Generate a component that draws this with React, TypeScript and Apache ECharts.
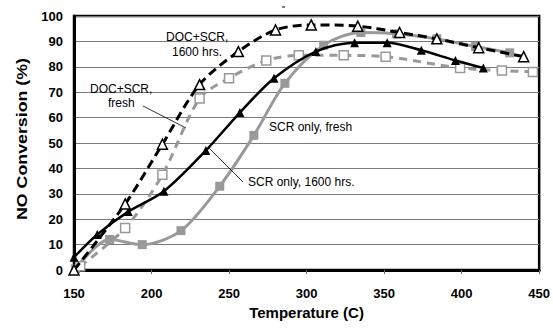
import React, { useEffect, useRef } from "react";
import * as echarts from "echarts";

// Temperature (C) / NO conversion (%) readings for each configuration
const docScr1600X = [150, 183, 207, 231, 256, 280, 303, 333, 360, 384, 411, 440];
const docScr1600Y = [0, 26, 49.5, 73, 86, 94.5, 96.5, 96, 93.5, 91, 87.5, 84];

const scrFreshX = [150, 165, 185, 208, 235, 257, 279, 306, 331, 352, 374, 396, 414];
const scrFreshY = [5, 14, 23, 31, 47, 62, 75.5, 86, 89.5, 89.5, 86.5, 82.5, 79.5];

const docScrFreshX = [154, 183, 207, 231, 250, 274, 295, 324, 351, 399, 426, 446];
const docScrFreshY = [1.5, 16.5, 37.5, 67.5, 75.5, 82.5, 84.5, 84.5, 84, 79.5, 78.5, 78];

const scr1600X = [151, 173, 194, 219, 244, 266, 286, 311, 335, 358, 384, 409, 431];
const scr1600Y = [0.5, 12, 10, 15.5, 33, 53, 73.5, 88.5, 93.5, 93, 91, 88, 85.5];

const xTicks = [150, 200, 250, 300, 350, 400, 450];
const yTicks = [0, 10, 20, 30, 40, 50, 60, 70, 80, 90, 100];

const pairs = (xs: number[], ys: number[]) => xs.map((x, i) => [x, ys[i]]);

const GRAY = "#999999";
const FONT = "Liberation Sans, Arial, sans-serif";

export default function App() {
  const ref = useRef<HTMLDivElement>(null);

  useEffect(() => {
    if (!ref.current) return;
    const chart = echarts.init(ref.current, null, { renderer: "svg" });
    chart.setOption({
      animation: false,
      backgroundColor: "#ffffff",
      grid: {
        left: 74,
        right: 11,
        top: 16,
        bottom: 58,
        show: true,
        borderColor: "#000",
        borderWidth: 2.5,
        backgroundColor: "transparent",
      },
      xAxis: {
        type: "value",
        min: xTicks[0],
        max: xTicks[xTicks.length - 1],
        interval: 50,
        name: "Temperature (C)",
        nameLocation: "middle",
        nameGap: 34,
        nameTextStyle: { fontFamily: FONT, fontWeight: "bold", fontSize: 15, color: "#000" },
        axisLine: { show: true, lineStyle: { color: "#000", width: 3 } },
        axisTick: { show: true, length: 4, lineStyle: { color: "#666" } },
        axisLabel: {
          fontFamily: FONT,
          fontWeight: "bold",
          fontSize: 13,
          color: "#000",
          margin: 17,
        },
        splitLine: { show: false },
      },
      yAxis: {
        type: "value",
        min: yTicks[0],
        max: yTicks[yTicks.length - 1],
        interval: 10,
        axisLine: { show: true, lineStyle: { color: "#000", width: 3 } },
        axisTick: { show: false },
        axisLabel: {
          fontFamily: FONT,
          fontWeight: "bold",
          fontSize: 13,
          color: "#000",
          margin: 11,
        },
        splitLine: { show: true, lineStyle: { color: "#7a7a7a", width: 1 } },
      },
      series: [
        {
          name: "SCR only, 1600 hrs.",
          type: "line",
          smooth: 0.3,
          data: pairs(scr1600X, scr1600Y),
          symbol: "rect",
          symbolSize: 9,
          lineStyle: { color: GRAY, width: 3 },
          itemStyle: { color: GRAY },
          z: 2,
        },
        {
          name: "DOC+SCR, fresh",
          type: "line",
          smooth: 0.3,
          data: pairs(docScrFreshX, docScrFreshY),
          symbol: "rect",
          symbolSize: 9,
          lineStyle: { color: GRAY, width: 3, type: [8, 6] },
          itemStyle: { color: "#fff", borderColor: GRAY, borderWidth: 1.5 },
          z: 3,
        },
        {
          name: "SCR only, fresh",
          type: "line",
          smooth: 0.3,
          data: pairs(scrFreshX, scrFreshY),
          symbol: "triangle",
          symbolSize: 9,
          lineStyle: { color: "#000", width: 2.5 },
          itemStyle: { color: "#000" },
          z: 4,
        },
        {
          name: "DOC+SCR, 1600 hrs.",
          type: "line",
          smooth: 0.3,
          data: pairs(docScr1600X, docScr1600Y),
          symbol: "triangle",
          symbolSize: 10,
          lineStyle: { color: "#000", width: 3, type: [9, 5] },
          itemStyle: { color: "#fff", borderColor: "#000", borderWidth: 1.5 },
          z: 5,
        },
      ],
      graphic: [
        {
          // vertical axis title, drawn in a wide bold face
          type: "text",
          x: 22,
          y: 139,
          rotation: Math.PI / 2,
          scaleX: 1.27,
          z: 10,
          style: {
            text: "NO Conversion (%)",
            font: `bold 14px ${FONT}`,
            fill: "#000",
            align: "center",
            verticalAlign: "middle",
          },
        },
        {
          type: "text",
          left: 166,
          top: 31,
          z: 10,
          style: { text: "DOC+SCR,", font: `12px ${FONT}`, fill: "#000" },
        },
        {
          type: "text",
          left: 172,
          top: 46,
          z: 10,
          style: { text: "1600 hrs.", font: `12px ${FONT}`, fill: "#000" },
        },
        {
          type: "text",
          left: 90,
          top: 83,
          z: 10,
          style: { text: "DOC+SCR,", font: `12px ${FONT}`, fill: "#000" },
        },
        {
          type: "text",
          left: 108,
          top: 97,
          z: 10,
          style: { text: "fresh", font: `12px ${FONT}`, fill: "#000" },
        },
        {
          type: "line",
          z: 10,
          shape: { x1: 143, y1: 106, x2: 186, y2: 128 },
          style: { stroke: "#000", lineWidth: 0.8 },
        },
        {
          type: "text",
          left: 269,
          top: 121,
          z: 10,
          style: { text: "SCR only, fresh", font: `12px ${FONT}`, fill: "#000" },
        },
        {
          type: "line",
          z: 10,
          shape: { x1: 208, y1: 147, x2: 243, y2: 182 },
          style: { stroke: "#000", lineWidth: 0.8 },
        },
        {
          type: "text",
          left: 248,
          top: 176,
          z: 10,
          style: { text: "SCR only, 1600 hrs.", font: `12px ${FONT}`, fill: "#000" },
        },
        {
          type: "line",
          shape: { x1: 282, y1: 7, x2: 285, y2: 7 },
          style: { stroke: "#000", lineWidth: 1 },
        },
      ],
    });
    return () => chart.dispose();
  }, []);

  return <div ref={ref} style={{ width: 553, height: 328, position: "absolute", left: 0, top: 0 }} />;
}
